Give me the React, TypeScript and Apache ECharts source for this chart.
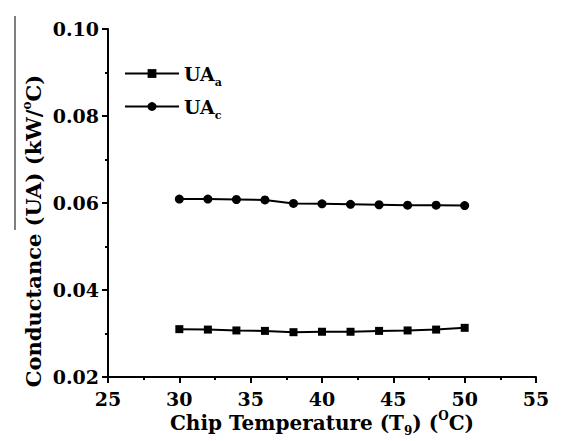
import React, { useEffect, useRef } from "react";
import * as echarts from "echarts";

const temperatures = [30, 32, 34, 36, 38, 40, 42, 44, 46, 48, 50];
const uaA = [0.031, 0.0309, 0.0307, 0.0306, 0.0303, 0.0304, 0.0304, 0.0306, 0.0307, 0.0309, 0.0313];
const uaC = [0.0609, 0.0609, 0.0608, 0.0607, 0.0599, 0.0598, 0.0597, 0.0596, 0.0595, 0.0595, 0.0594];
const seriesNames = ["UA_a", "UA_c"];
const xRange = [25, 55, 5];
const yRange = [0.02, 0.1, 0.02];

const FONT = "DejaVu Serif";

export default function App() {
  const ref = useRef<HTMLDivElement>(null);
  useEffect(() => {
    if (!ref.current) return;
    const chart = echarts.init(ref.current, null, { renderer: "svg" });
    const tok = (size: number, extra: any = {}) => ({
      fontFamily: FONT,
      fontWeight: 700,
      fontSize: size,
      color: "#000",
      verticalAlign: "middle",
      ...extra,
    });
    chart.setOption({
      animation: false,
      backgroundColor: "#fff",
      textStyle: { fontFamily: FONT },
      grid: { left: 108, right: 25, top: 29, bottom: 64, outerBoundsMode: "none" },
      legend: {
        orient: "vertical",
        left: 124,
        top: 64,
        padding: 0,
        itemWidth: 54,
        itemHeight: 11,
        itemGap: 9,
        data: seriesNames,
        formatter: (name: string) => `{m|UA}{s|${name.slice(3)}}`,
        textStyle: {
          fontFamily: FONT,
          fontWeight: 700,
          fontSize: 19,
          color: "#000",
          rich: {
            m: tok(19),
            s: tok(11, { padding: [18, 0, 0, 0] }),
          },
        },
      },
      xAxis: {
        type: "value",
        min: xRange[0],
        max: xRange[1],
        interval: xRange[2],
        name: "{m|Chip Temperature (T}{s|9}{m|) (}{p|O}{m|C)}",
        nameLocation: "middle",
        nameGap: 31,
        nameMoveOverlap: false,
        nameTextStyle: {
          fontFamily: FONT,
          rich: {
            m: tok(20),
            s: tok(12, { padding: [17, 0, 0, 0] }),
            p: tok(12, { padding: [0, 0, 13, 0] }),
          },
        },
        axisLine: { lineStyle: { color: "#000", width: 2 } },
        axisTick: { length: 6, lineStyle: { color: "#000", width: 2 } },
        minorTick: { show: true, splitNumber: 2, length: 3, lineStyle: { color: "#000", width: 2 } },
        splitLine: { show: false },
        axisLabel: {
          margin: 12,
          fontFamily: FONT,
          fontWeight: 700,
          fontSize: 19,
          color: "#000",
        },
      },
      yAxis: {
        type: "value",
        min: yRange[0],
        max: yRange[1],
        interval: yRange[2],
        axisLine: { show: true, lineStyle: { color: "#000", width: 2 } },
        axisTick: { show: true, length: 6, lineStyle: { color: "#000", width: 2 } },
        minorTick: { show: true, splitNumber: 2, length: 3, lineStyle: { color: "#000", width: 2 } },
        splitLine: { show: false },
        axisLabel: {
          margin: 9,
          fontFamily: FONT,
          fontWeight: 700,
          fontSize: 19,
          color: "#000",
          formatter: (v: number) => v.toFixed(2),
        },
      },
      graphic: [
        {
          type: "text",
          x: 33,
          y: 231,
          rotation: Math.PI / 2,
          style: {
            text: "{m|Conductance (UA) (kW/}{p|o}{m|C)}",
            align: "center",
            verticalAlign: "middle",
            fontFamily: FONT,
            rich: {
              m: tok(21),
              p: tok(12, { padding: [0, 0, 13, 0] }),
            },
          },
        },
        {
          type: "line",
          shape: { x1: 15, y1: 16, x2: 15, y2: 230 },
          style: { stroke: "#000", lineWidth: 1 },
        },
      ],
      series: [
        {
          name: seriesNames[0],
          type: "line",
          data: temperatures.map((t, i) => [t, uaA[i]]),
          symbol: "rect",
          symbolSize: 8,
          itemStyle: { color: "#000" },
          lineStyle: { color: "#000", width: 2 },
        },
        {
          name: seriesNames[1],
          type: "line",
          data: temperatures.map((t, i) => [t, uaC[i]]),
          symbol: "circle",
          symbolSize: 9,
          itemStyle: { color: "#000" },
          lineStyle: { color: "#000", width: 2 },
        },
      ],
    });
    return () => chart.dispose();
  }, []);
  return (
    <div
      ref={ref}
      style={{ position: "fixed", left: 0, top: 0, width: 561, height: 441, background: "#fff" }}
    />
  );
}
